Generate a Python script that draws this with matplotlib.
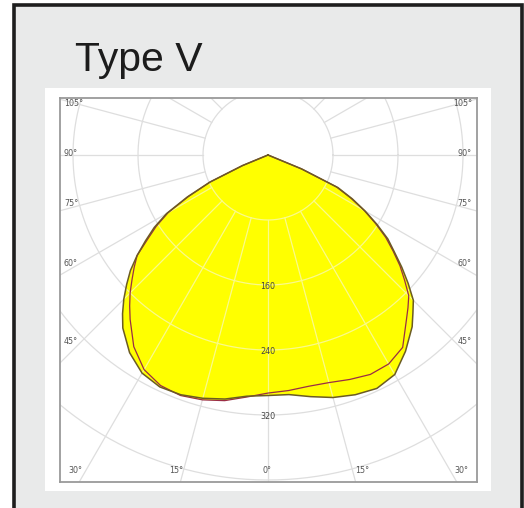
import numpy as np
import matplotlib
matplotlib.use("Agg")
import matplotlib.pyplot as plt
from matplotlib.patches import Rectangle

# ---- data (candela vs. vertical angle, negative = left side) ----
angles_a = [-90, -70, -67.5, -65, -62.5, -60, -57.5, -55, -52.5, -50, -47.5, -45, -42.5,
            -40, -35, -30, -25, -20, -15, -10, -5, 0, 5, 10, 15, 20, 25, 30, 35, 40,
            42.5, 45, 47.5, 50, 52.5, 55, 57.5, 60, 62.5, 65, 67.5, 70, 90]
intens_a = [0, 0, 34, 79, 112, 144, 166, 184, 203, 221, 236, 251, 265,
            278, 297, 310, 315, 314, 310, 305, 298, 296, 296, 302, 309, 314, 317, 312, 295, 276,
            264, 253, 234, 215, 196, 180, 159, 138, 117, 95, 45, 0, 0]

angles_b = angles_a
intens_b = [0, 0, 34, 78, 110, 142, 163, 181, 203, 215, 227, 240, 252,
            264, 288, 305, 313, 315, 312, 307, 299, 293, 291, 289, 290, 294, 298, 297, 289, 265,
            255, 245, 228, 212, 194, 177, 157, 137, 115, 93, 44, 0, 0]

ring_values = [80, 160, 240, 320, 400, 480]
ring_labels = ["160", "240", "320"]
side_labels = ["105°", "90°", "75°", "60°", "45°"]
bottom_labels = ["30°", "15°", "0°", "15°", "30°"]

# ---- figure ----
W, H = 524, 508
fig = plt.figure(figsize=(W / 100, H / 100), dpi=100)
fig.patch.set_facecolor("white")

def fx(px):
    return px / W

def fy(py):
    return 1 - py / H

# outer frame
fig.patches.append(Rectangle((fx(14), fy(530)), fx(522) - fx(14), fy(4.5) - fy(530),
                             transform=fig.transFigure, facecolor="#e9eaea",
                             edgecolor="#1e1e1e", lw=2.6, zorder=-3))
# white panel
fig.patches.append(Rectangle((fx(45), fy(491)), fx(491) - fx(45), fy(88) - fy(491),
                             transform=fig.transFigure, facecolor="white",
                             edgecolor="none", zorder=-2))

fig.text(fx(75), fy(71), "Type V", fontsize=29.5, family="Liberation Sans",
         color="#1c1c1c", va="baseline", ha="left")

# axes
cx, cy = 268, 155
k = 80 / 65.0
left, right, top, bottom = 60, 477, 97.7, 481.5
ax = fig.add_axes([fx(left), fy(bottom), fx(right) - fx(left), fy(top) - fy(bottom)])
ax.set_zorder(1)
ax.set_xlim((left - cx) * k, (right - cx) * k)
ax.set_ylim(-(bottom - cy) * k, (cy - top) * k)
ax.set_xticks([])
ax.set_yticks([])
for s in ax.spines.values():
    s.set_color("#9a9a9a")
    s.set_linewidth(1.3)

def dx(px):
    return (px - cx) * k

def dy(py):
    return (cy - py) * k

# curves
def xy(angs, vals):
    t = np.radians(np.array(angs, dtype=float))
    v = np.array(vals, dtype=float)
    return v * np.sin(t), -v * np.cos(t)

xa, ya = xy(angles_a, intens_a)
xb, yb = xy(angles_b, intens_b)
fill_a = ax.fill(xa, ya, color="#ffff00", lw=0, zorder=1)[0]
fill_b = ax.fill(xb, yb, color="#ffff00", lw=0, zorder=1)[0]

# grid (under fill) + pale traces over the fill
th = np.linspace(0, 2 * np.pi, 400)
grid_lines = []
for r in ring_values:
    grid_lines.append((r * np.cos(th), r * np.sin(th)))
for a in range(-180, 180, 15):
    t = np.radians(a)
    grid_lines.append(([80 * np.sin(t), 700 * np.sin(t)], [-80 * np.cos(t), -700 * np.cos(t)]))
for gx, gy in grid_lines:
    ax.plot(gx, gy, color="#dedede", lw=0.9, zorder=0.5)
    ln = ax.plot(gx, gy, color="#fafa8c", lw=0.9, zorder=2)[0]
    ln.set_clip_path(fill_a)

ax.plot(xa, ya, color="#6b5b23", lw=1.1, zorder=4)
ax.plot(xb, yb, color="#9a2d45", lw=0.9, zorder=3)

# labels
lab_kw = dict(fontsize=5.8, color="#555555", family="DejaVu Sans", zorder=5)
side_y = [103, 154, 204, 263, 342]
for lab, py in zip(side_labels, side_y):
    ax.text(dx(64), dy(py), lab, ha="left", va="center", **lab_kw)
    ax.text(dx(472), dy(py), lab, ha="right", va="center", **lab_kw)
bottom_x = [75, 176, 267, 362, 461]
for lab, px in zip(bottom_labels, bottom_x):
    ax.text(dx(px), dy(470.5), lab, ha="center", va="center", **lab_kw)
for lab, r in zip(ring_labels, ring_values[1:4]):
    ax.text(0, -r - 1.5 * k, lab, ha="center", va="center", fontsize=5.8,
            color="#444444", family="DejaVu Sans", zorder=5)

fig.savefig("out.png", dpi=100)
